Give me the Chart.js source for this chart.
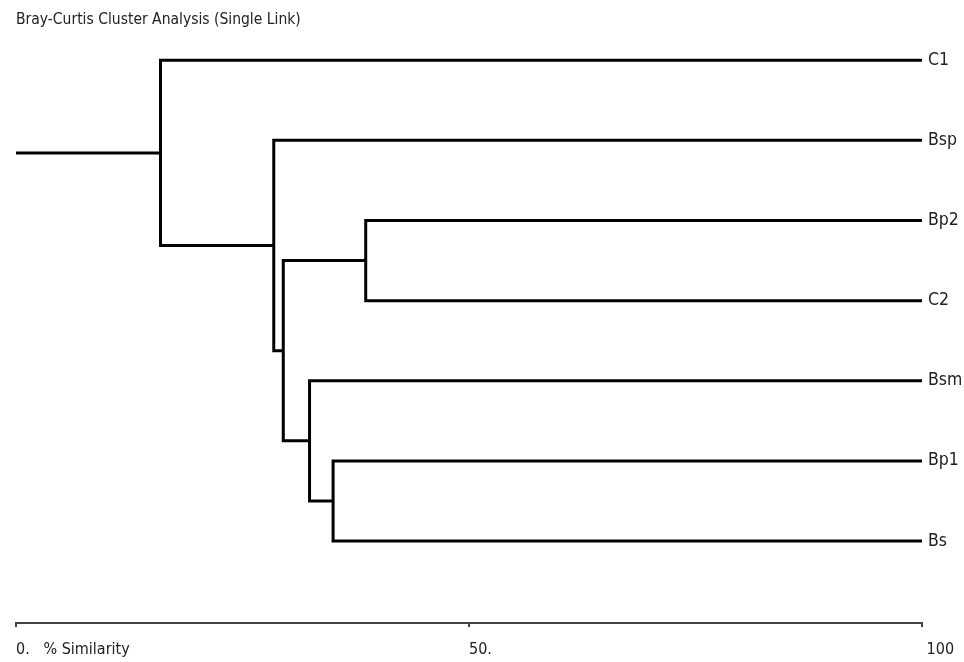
<!DOCTYPE html>
<html>
<head>
<meta charset="utf-8">
<script src="https://cdn.jsdelivr.net/npm/chart.js@4"></script>
<style>
  body { margin: 0; background: #fff; }
  #wrap { width: 964px; height: 662px; position: relative; }
</style>
</head>
<body>
<div id="wrap"><canvas id="myChart"></canvas></div>
<script>
// leaves, top to bottom
let leaves = ['C1', 'Bsp', 'Bp2', 'C2', 'Bsm', 'Bp1', 'Bs'];
// merges: ids 0..6 are leaves, merge i gets id 7 + i
let mergeLeft = [2, 5, 4, 7, 1, 0];
let mergeRight = [3, 6, 8, 9, 10, 11];
let mergeSim = [38.6, 35.0, 32.4, 29.5, 28.45, 15.95];
// x axis
let simTicks = [0, 50, 100];
let simLabels = ['0.', '50.', '100'];
let axisTitle = '% Similarity';
let chartTitle = 'Bray-Curtis Cluster Analysis (Single Link)';

const fontFamily = "'Liberation Sans Narrow', 'Arial Narrow', 'DejaVu Sans Condensed', sans-serif";

// position of each cluster: x = similarity, y = mean of children
let nodeX = [];
let nodeY = [];
for (let i = 0; i < leaves.length; i++) {
  nodeX.push(100);
  nodeY.push(i);
}
let datasets = [];
for (let i = 0; i < mergeSim.length; i++) {
  let a = mergeLeft[i];
  let b = mergeRight[i];
  let x = mergeSim[i];
  let y = (nodeY[a] + nodeY[b]) / 2;
  nodeX.push(x);
  nodeY.push(y);
  datasets.push({
    label: 'merge ' + (i + 1),
    data: [
      { x: nodeX[a], y: nodeY[a] },
      { x: x, y: nodeY[a] },
      { x: x, y: nodeY[b] },
      { x: nodeX[b], y: nodeY[b] }
    ]
  });
}
// root stub
let root = nodeX.length - 1;
datasets.push({
  label: 'root',
  data: [{ x: nodeX[root], y: nodeY[root] }, { x: 0, y: nodeY[root] }]
});

datasets.forEach(function (ds) {
  ds.borderColor = '#000';
  ds.borderWidth = 3;
  ds.pointRadius = 0;
  ds.tension = 0;
  ds.fill = false;
  ds.clip = false;
  ds.borderJoinStyle = 'miter';
  ds.borderCapStyle = 'butt';
});

const ctx = document.getElementById('myChart').getContext('2d');
new Chart(ctx, {
  type: 'line',
  data: { datasets: datasets },
  options: {
    responsive: true,
    maintainAspectRatio: false,
    animation: false,
    layout: { padding: { left: 16, right: 0, top: 0, bottom: 0 } },
    plugins: {
      legend: { display: false },
      tooltip: { enabled: false },
      title: {
        display: true,
        text: chartTitle,
        align: 'start',
        color: '#222',
        font: { family: fontFamily, size: 15.5, weight: 'normal' },
        padding: { top: 11, bottom: 11 }
      }
    },
    scales: {
      x: {
        type: 'linear',
        position: 'bottom',
        min: 0,
        max: 100,
        afterBuildTicks: function (scale) {
          scale.ticks = simTicks.map(v => ({ value: v }));
        },
        afterFit: function (scale) {
          scale.height = 39;
          scale.paddingLeft = 0;
          scale.paddingRight = 0;
        },
        border: { display: true, color: '#444', width: 2 },
        grid: {
          display: true,
          drawOnChartArea: false,
          drawTicks: true,
          tickLength: 4,
          color: '#444',
          lineWidth: 2
        },
        ticks: {
          align: 'start',
          padding: 13,
          color: '#222',
          maxRotation: 0,
          autoSkip: false,
          font: { family: fontFamily, size: 16 },
          callback: function (value) {
            let i = simTicks.indexOf(value);
            if (i === 0) return simLabels[i] + '   ' + axisTitle;
            if (i === 2) return ' ' + simLabels[i];
            return simLabels[i];
          }
        }
      },
      y: {
        type: 'linear',
        position: 'right',
        reverse: true,
        min: -0.245,
        max: 7.023,
        afterBuildTicks: function (scale) {
          scale.ticks = leaves.map((n, i) => ({ value: i }));
        },
        afterFit: function (scale) { scale.width = 42; },
        border: { display: false },
        grid: { display: false, drawTicks: false },
        ticks: {
          padding: 6,
          color: '#222',
          autoSkip: false,
          font: { family: fontFamily, size: 17.5 },
          callback: function (value) { return leaves[value]; }
        }
      }
    }
  }
});
</script>
</body>
</html>
